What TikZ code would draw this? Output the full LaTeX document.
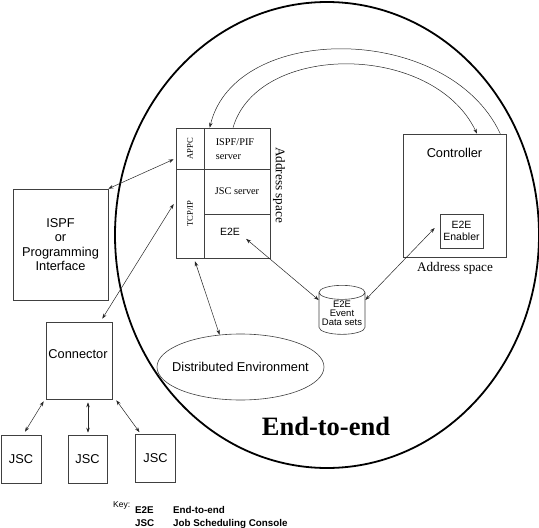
\documentclass[tikz,border=0pt]{standalone}
\usepackage{fontspec}
\setmainfont{Liberation Serif}
\setsansfont{Liberation Sans}
\usetikzlibrary{shapes.geometric,arrows.meta,calc}
\begin{document}
\begin{tikzpicture}[x=1pt,y=-1pt,
  box/.style={draw=black!75, line width=0.6pt, inner sep=0pt},
  tip/.tip={Stealth[length=5pt,width=3.5pt]},
  both/.style={draw=black!85, line width=0.5pt, tip-tip},
  oneway/.style={draw=black!85, line width=0.5pt, -tip},
  sansA/.style={font=\sffamily\fontsize{12.8}{14.5}\selectfont},
  sansB/.style={font=\sffamily\fontsize{10.5}{11.5}\selectfont},
  sansC/.style={font=\sffamily\fontsize{9.5}{8.8}\selectfont},
  serifA/.style={font=\rmfamily\fontsize{10.3}{14}\selectfont},
  serifB/.style={font=\rmfamily\fontsize{8.6}{10}\selectfont},
  serifC/.style={font=\rmfamily\fontsize{13.2}{15}\selectfont},
  keyb/.style={font=\sffamily\bfseries\fontsize{9.8}{11}\selectfont, anchor=base west, inner sep=0pt},
]
\path[use as bounding box] (0,0) rectangle (539,528);

% big oval
\node[ellipse, draw, line width=1.8pt, minimum width=424, minimum height=466, inner sep=0pt] (oval) at (327,235) {};

% left address space
\node[box, serifB, minimum width=28, minimum height=41] (appc) at (190,148.5) {\rotatebox{90}{APPC}};
\node[box, serifB, minimum width=28, minimum height=89] (tcp) at (190,213.5) {\rotatebox{90}{TCP/IP}};
\node[box, minimum width=66, minimum height=41] (ispfs) at (237,148.5) {};
\node[serifA, align=left, inner sep=0pt] (ispfstxt) at (235,149) {ISPF/PIF\\server};
\node[box, serifA, minimum width=66, minimum height=45] (jscs) at (237,191.5) {JSC server};
\node[box, minimum width=66, minimum height=44] (e2ec) at (237,236) {};
\node[sansB, inner sep=0pt] (e2etxt) at (230,232) {E2E};
\node[serifC, inner sep=0pt] (asplabel) at (279,185) {\rotatebox{-90}{Address space}};

% controller
\node[box, minimum width=103, minimum height=123] (ctrl) at (454.5,195.5) {};
\node[sansA, inner sep=0pt] (ctrltxt) at (454.5,153) {Controller};
\node[box, sansB, align=center, minimum width=43, minimum height=34] (enab) at (461.5,231) {E2E\\Enabler};
\node[serifC, inner sep=0pt] (ctrlasp) at (455,268) {Address space};

% data sets
\node[cylinder, shape border rotate=90, draw=black!75, line width=0.6pt, aspect=0.35,
      minimum width=46, minimum height=49, inner sep=0pt, sansC, align=center] (db) at (342,313.5) {E2E\\Event\\Data sets};

% distributed environment
\node[ellipse, draw=black!75, line width=0.6pt, minimum width=167, minimum height=66, inner sep=0pt, sansA] (dist) at (240.5,367) {\makebox[0pt]{Distributed Environment}};

% ISPF and connector
\node[box, sansA, align=center, minimum width=95, minimum height=111] (ispf) at (60.5,244.5) {ISPF\\or\\Programming\\Interface};
\node[box, minimum width=66, minimum height=77] (conn) at (79,360.5) {};
\node[sansA, inner sep=0pt] (conntxt) at (78,354) {Connector};

% JSC boxes
\node[box, sansA, minimum width=40, minimum height=48] (jsc1) at (21,459) {JSC};
\node[box, sansA, minimum width=39, minimum height=48] (jsc2) at (87.5,459) {JSC};
\node[box, sansA, minimum width=40, minimum height=48] (jsc3) at (155.5,458.5) {JSC};

% title
\node[font=\rmfamily\bfseries\fontsize{26.5}{30}\selectfont, inner sep=0pt] (title) at (326,426) {End-to-end};

% key
\node[font=\sffamily\fontsize{8.5}{10}\selectfont, anchor=base west, inner sep=0pt] (key) at (113,507.5) {Key:};
\node[keyb] (k1) at (135,513.5) {E2E};
\node[keyb] (k1t) at (173,513.5) {End-to-end};
\node[keyb] (k2) at (135,526.5) {JSC};
\node[keyb] (k2t) at (173,526.5) {Job Scheduling Console};

% connectors
\draw[both] (ispf.north east) -- ($(appc.south west)+(-2,-10)$);
\draw[both] ($(conn.north east)+(-10,-3)$) -- ($(tcp.west)+(-2,-9.5)$);
\draw[both] ($(tcp.south)+(5,3)$) -- (dist.123);
\draw[both] ($(e2etxt.south east)+(6,3)$) -- (db.150);
\draw[both] ($(enab.west)+(-5,-3)$) -- (db.30);
\draw[both] ($(conn.south west)+(-2,2)$) -- ($(jsc1.north)+(4,-3)$);
\draw[both] ($(conn.south)+(9,3)$) -- ($(jsc2.north)+(0.5,-2)$);
\draw[both] ($(conn.south east)+(4,1)$) -- ($(jsc3.north)+(-16,-2)$);

% arcs between address spaces
\draw[oneway] ($(ctrl.north east)+(-6,0)$) .. controls (448,22) and (235,22) .. ($(ispfs.north west)+(6,0)$);
\draw[oneway] ($(ispfs.north)+(-4,0)$) .. controls (258,42) and (433,42) .. ($(ctrl.north)+(22.5,0)$);
\end{tikzpicture}
\end{document}
